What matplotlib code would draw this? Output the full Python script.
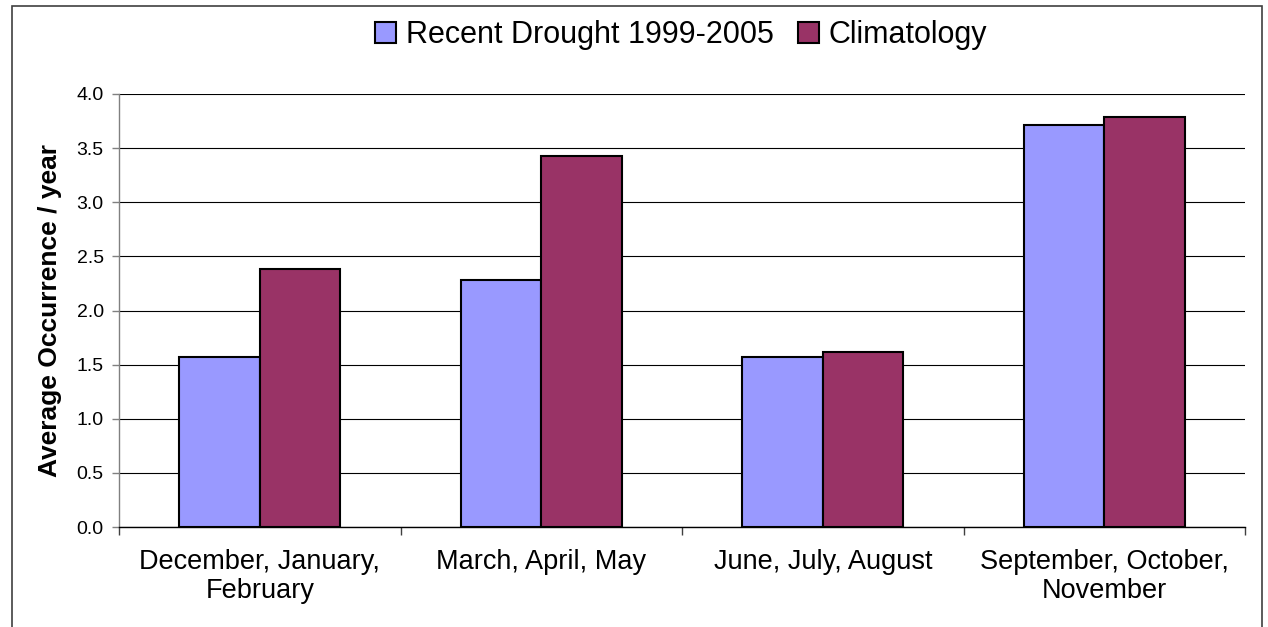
import matplotlib
matplotlib.use("Agg")
import matplotlib.pyplot as plt
from matplotlib.patches import Rectangle
import numpy as np

plt.rcParams['font.family'] = ['Liberation Sans', 'DejaVu Sans']

# Data
seasons = ["December, January,\nFebruary", "March, April, May",
           "June, July, August", "September, October,\nNovember"]
series_names = ["Recent Drought 1999-2005", "Climatology"]
recent_drought = [1.57, 2.28, 1.57, 3.71]
climatology = [2.38, 3.43, 1.62, 3.79]
y_ticks = [0.0, 0.5, 1.0, 1.5, 2.0, 2.5, 3.0, 3.5, 4.0]

colors = ["#9999FF", "#993366"]

W, H = 1268, 627
fig = plt.figure(figsize=(W / 100, H / 100), dpi=100)
fig.patch.set_facecolor("white")

# outer chart border (open at the bottom edge)
fig.patches.append(Rectangle((12 / W, -0.05), (1262 - 12) / W, 1.05 - 6 / H,
                             transform=fig.transFigure, fill=False,
                             edgecolor="#404040", linewidth=1.2))

ax = fig.add_axes([119 / W, 1 - 527 / H, (1245 - 119) / W, (527 - 94) / H])

x = np.arange(len(seasons))
bw = 0.2857
ax.bar(x - bw / 2, recent_drought, bw, color=colors[0], edgecolor="black",
       linewidth=1.5, label=series_names[0], zorder=3)
ax.bar(x + bw / 2, climatology, bw, color=colors[1], edgecolor="black",
       linewidth=1.5, label=series_names[1], zorder=3)

ax.set_xlim(-0.5, len(seasons) - 0.5)
ax.set_ylim(0, 4.0)

ax.set_yticks(y_ticks)
ax.set_yticklabels([f"{v:.1f}" for v in y_ticks], fontsize=14)
ax.yaxis.grid(True, color="black", linewidth=0.8, zorder=0)
ax.set_axisbelow(True)

ax.set_xticks(x)
ax.set_xticklabels(seasons, fontsize=19.5, linespacing=1.15)
ax.set_xticks(np.arange(-0.5, len(seasons), 1.0), minor=True)
ax.tick_params(axis="x", which="major", length=0, pad=16)
ax.tick_params(axis="x", which="minor", length=6, width=1, color="#404040",
               direction="out")
ax.tick_params(axis="y", length=5, width=1, color="#808080", pad=6,
               direction="out")

for side in ("top", "right"):
    ax.spines[side].set_visible(False)
ax.spines["left"].set_color("#808080")
ax.spines["left"].set_linewidth(1)
ax.spines["bottom"].set_color("black")
ax.spines["bottom"].set_linewidth(1)

fig.text(50 / W, 1 - 310 / H, "Average Occurrence / year", rotation=90,
         ha="center", va="center", fontsize=19, fontweight="bold")

fig.legend(loc="center", bbox_to_anchor=(681 / W, 1 - 35 / H), ncol=2,
           frameon=False, fontsize=22, handlelength=0.7, handleheight=0.7,
           handletextpad=0.3, columnspacing=0.8, borderpad=0)

fig.savefig("out.png", dpi=100, facecolor="white")
